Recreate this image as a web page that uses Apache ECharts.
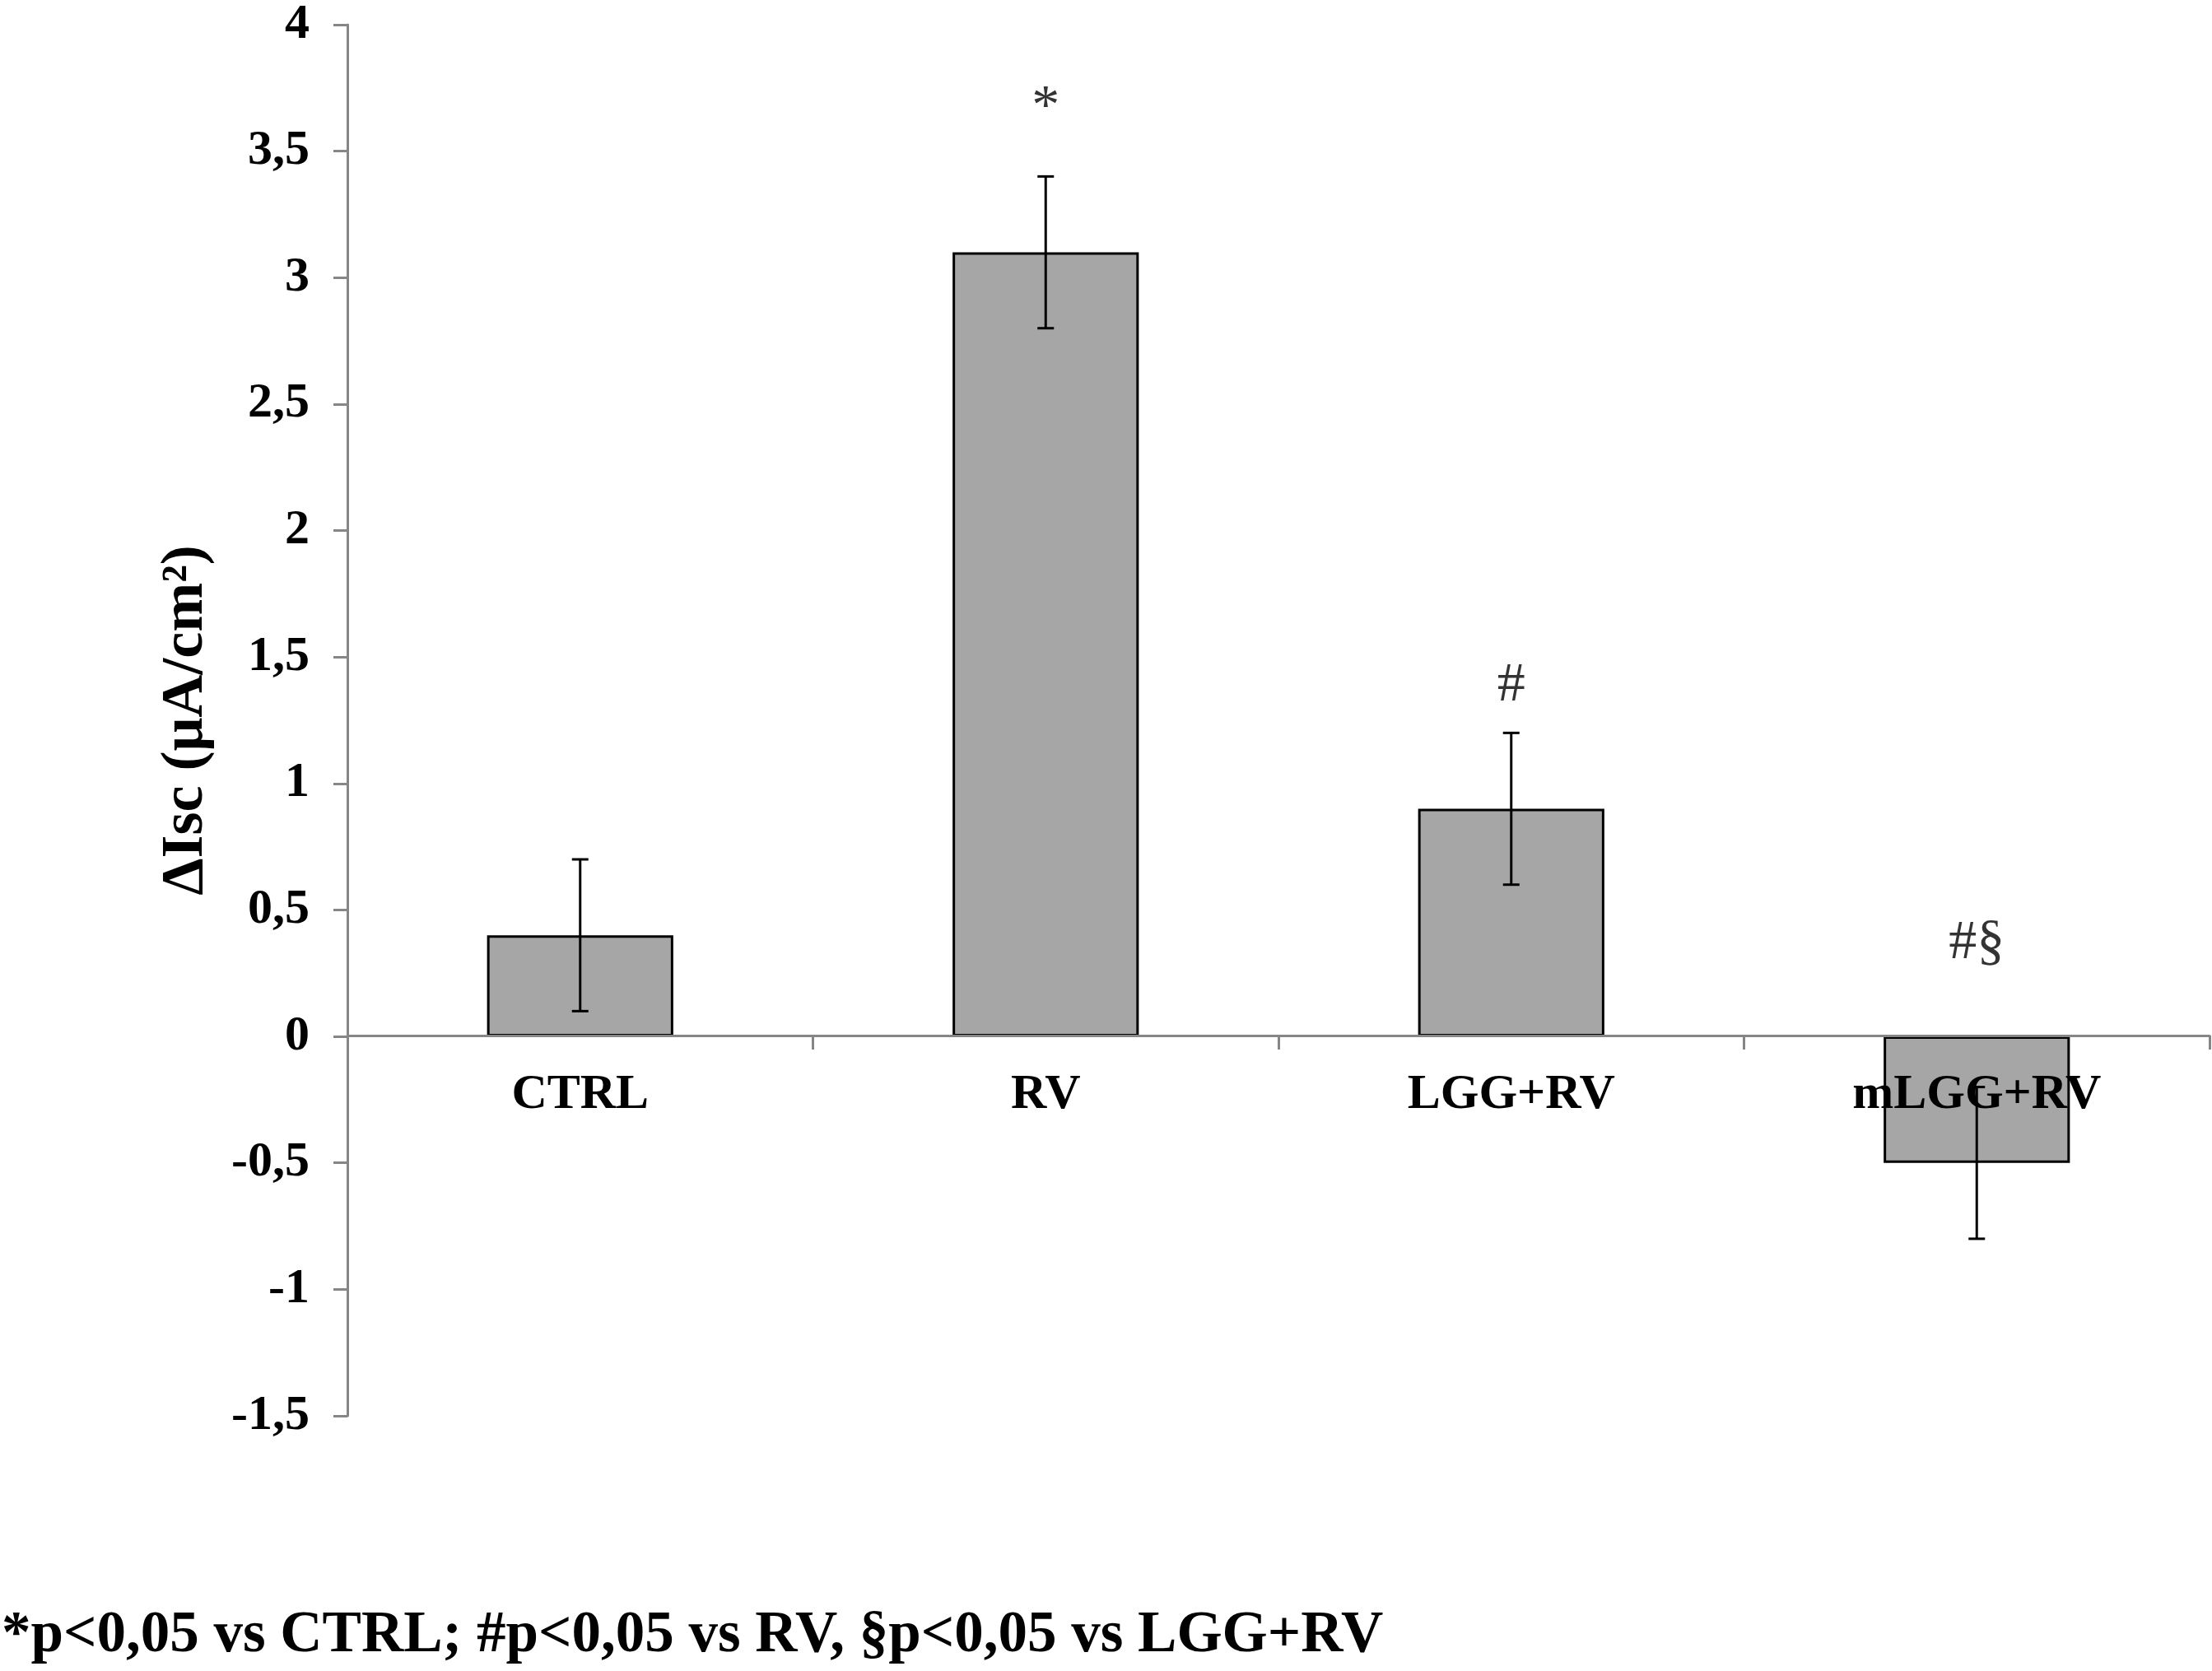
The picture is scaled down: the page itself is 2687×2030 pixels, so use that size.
<!DOCTYPE html>
<html>
<head>
<meta charset="utf-8">
<script src="https://cdn.jsdelivr.net/npm/echarts@6/dist/echarts.min.js"></script>
<style>
html,body{margin:0;padding:0;background:#fff;}
#chart{width:2687px;height:2030px;}
</style>
</head>
<body>
<div id="chart"></div>
<script>
const categories = ['CTRL', 'RV', 'LGG+RV', 'mLGG+RV'];
const values = [0.4, 3.1, 0.9, -0.5];
const errors = [0.3, 0.3, 0.3, 0.3];
const annotations = ['', '*', '#', '#§'];
const annotationY = [null, 3.67, 1.385, 0.367];
const yTicks = { min: -1.5, max: 4, interval: 0.5 };
const yTitle = 'ΔIsc (μA/cm²)';
const footnote = '*p<0,05 vs CTRL; #p<0,05 vs RV, §p<0,05 vs LGG+RV';

const FONT = '"Liberation Serif", "Times New Roman", serif';
const AXIS_COLOR = '#868686';

const GRID = { left: 422, right: 3, top: 26, bottom: 310 };
const H = 2030;
const plotH = H - GRID.top - GRID.bottom;
// distance of the zero line from the grid bottom, for placing the category axis on y = 0
const zeroFromBottom = plotH * (0 - yTicks.min) / (yTicks.max - yTicks.min);

const errData = values.map((v, i) => [i, v - errors[i], v + errors[i]]);
const annData = annotations.map((t, i) => t ? { value: [i, annotationY[i]], name: t } : null).filter(Boolean);

const chart = echarts.init(document.getElementById('chart'), null, { renderer: 'canvas' });
chart.setOption({
  backgroundColor: '#ffffff',
  animation: false,
  grid: { left: GRID.left, right: GRID.right, top: GRID.top, bottom: GRID.bottom, containLabel: false },
  xAxis: {
    type: 'category',
    data: categories,
    z: 10,
    position: 'bottom',
    offset: -zeroFromBottom,
    axisLine: { onZero: false, lineStyle: { color: AXIS_COLOR, width: 3 } },
    axisTick: { show: true, length: 17, lineStyle: { color: AXIS_COLOR, width: 3 } },
    axisLabel: { color: '#000', fontFamily: FONT, fontWeight: 'bold', fontSize: 60, margin: 42 },
    splitLine: { show: false }
  },
  yAxis: {
    type: 'value',
    min: yTicks.min, max: yTicks.max, interval: yTicks.interval,
    name: yTitle,
    nameLocation: 'middle',
    nameGap: 160,
    nameRotate: 90,
    nameTextStyle: { color: '#000', fontFamily: FONT, fontWeight: 'bold', fontSize: 72 },
    axisLine: { show: true, onZero: false, lineStyle: { color: AXIS_COLOR, width: 3 } },
    axisTick: { show: true, length: 17, lineStyle: { color: AXIS_COLOR, width: 3 } },
    axisLabel: {
      color: '#000', fontFamily: FONT, fontWeight: 'bold', fontSize: 60, margin: 46,
      formatter: v => String(Math.round(v * 10) / 10).replace('.', ',')
    },
    splitLine: { show: false }
  },
  series: [
    {
      type: 'bar',
      data: values,
      barWidth: '40%',
      itemStyle: { color: '#a6a6a6', borderColor: '#000', borderWidth: 3 },
      z: 2
    },
    {
      type: 'custom',
      data: errData,
      z: 3,
      renderItem: function (params, api) {
        const i = api.value(0);
        const lo = api.coord([i, api.value(1)]);
        const hi = api.coord([i, api.value(2)]);
        const cap = 10;
        const style = { stroke: '#000', lineWidth: 3 };
        return {
          type: 'group',
          children: [
            { type: 'line', shape: { x1: lo[0], y1: lo[1], x2: hi[0], y2: hi[1] }, style: style },
            { type: 'line', shape: { x1: lo[0] - cap, y1: lo[1], x2: lo[0] + cap, y2: lo[1] }, style: style },
            { type: 'line', shape: { x1: hi[0] - cap, y1: hi[1], x2: hi[0] + cap, y2: hi[1] }, style: style }
          ]
        };
      }
    },
    {
      type: 'scatter',
      data: annData,
      symbolSize: 1,
      itemStyle: { color: 'rgba(0,0,0,0)' },
      label: {
        show: true, position: 'inside', formatter: p => p.name,
        color: '#000', fontFamily: FONT, fontSize: 68
      },
      z: 4
    }
  ],
  graphic: [
    {
      type: 'text',
      left: 2,
      top: 1952,
      z: 100,
      style: { text: footnote, fill: '#000', font: 'bold 71px ' + FONT }
    }
  ]
});
</script>
</body>
</html>
